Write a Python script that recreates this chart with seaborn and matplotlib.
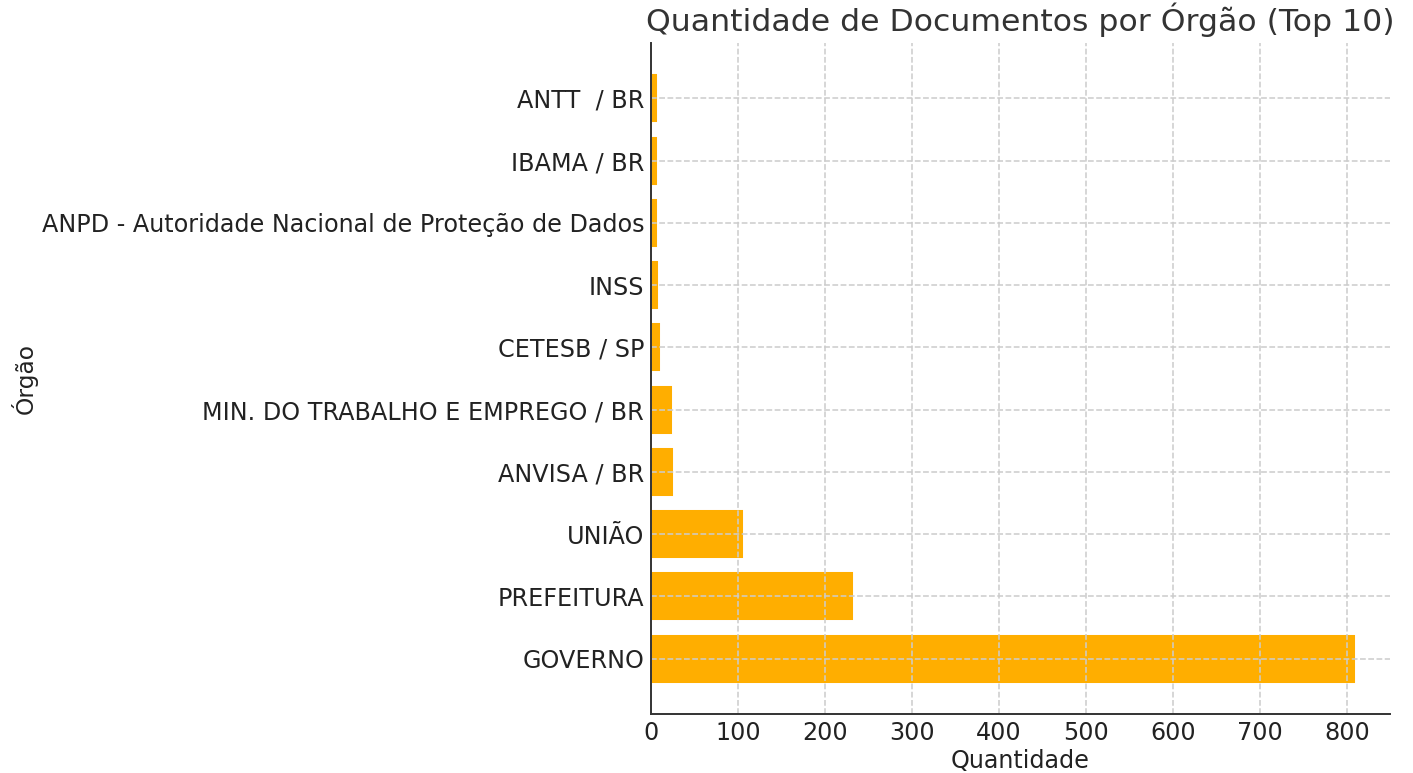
import matplotlib
matplotlib.use("Agg")
import matplotlib.pyplot as plt
import pandas as pd
import seaborn as sns

# Top 10 orgaos, maior primeiro
orgaos = ['GOVERNO', 'PREFEITURA', 'UNIÃO', 'ANVISA / BR',
          'MIN. DO TRABALHO E EMPREGO / BR', 'CETESB / SP', 'INSS',
          'ANPD - Autoridade Nacional de Proteção de Dados', 'IBAMA / BR',
          'ANTT  / BR']
quantidades = [810, 233, 107, 27, 25, 11, 9, 8, 8, 8]

df = pd.DataFrame({'Órgão': orgaos, 'Quantidade': quantidades})

sns.set_style('white')
plt.rcParams['font.family'] = ['DejaVu Sans']
plt.rcParams['text.color'] = '#333333'

fig = plt.figure(figsize=(1413 / 140, 773 / 140), dpi=140)
ax = fig.add_axes([0.4607, 0.0763, 0.5230, 0.8681])

# maior embaixo, como no barh do matplotlib
sns.barplot(data=df, x='Quantidade', y='Órgão', order=orgaos[::-1],
            color='#FFAE00', saturation=1, width=0.8, ax=ax, orient='h')

n = len(orgaos)
ax.set_ylim(n - 1 + 0.89, -0.89)
ax.set_xlim(0, 849)

ax.set_axisbelow(False)
ax.grid(True, linestyle='--', color='#cccccc', linewidth=0.8)

for s in ['top', 'right']:
    ax.spines[s].set_visible(False)
for s in ['left', 'bottom']:
    ax.spines[s].set_color('#333333')
    ax.spines[s].set_linewidth(1.0)
    ax.spines[s].set_zorder(5)

ax.tick_params(axis='both', direction='in', length=4, width=1,
               colors='#333333', labelsize=12.3, labelcolor='#222222')
ax.set_title('Quantidade de Documentos por Órgão (Top 10)', fontsize=16.2,
             color='#333333')
ax.set_xlabel('Quantidade', fontsize=12.3, color='#222222', labelpad=2)
ax.set_ylabel('Órgão', fontsize=12, color='#222222')
ax.yaxis.set_label_coords(-0.83, 0.5)

fig.savefig('out.png', dpi=140)
